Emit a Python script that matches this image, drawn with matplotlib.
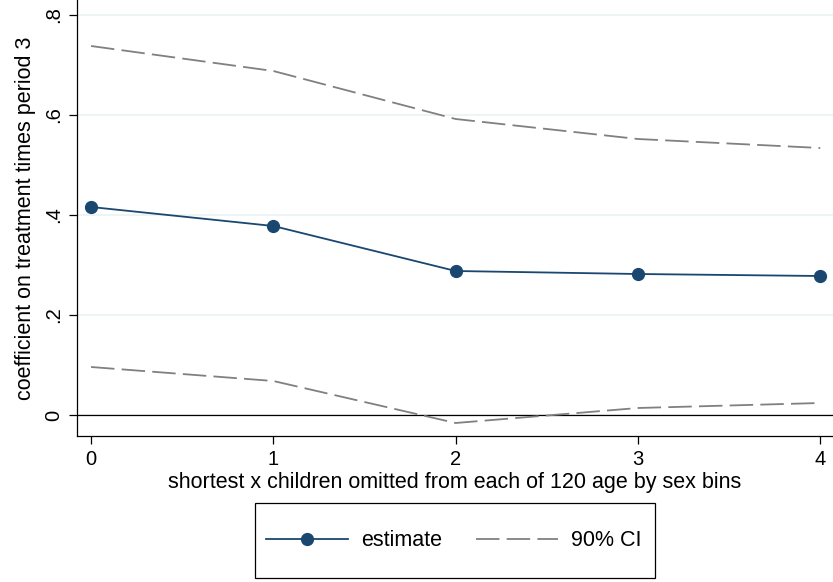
import matplotlib
matplotlib.use('Agg')
import matplotlib.pyplot as plt
from matplotlib.patches import Rectangle

omitted = [0, 1, 2, 3, 4]
estimate = [0.416, 0.378, 0.288, 0.282, 0.278]
ci_upper = [0.738, 0.688, 0.592, 0.552, 0.534]
ci_lower = [0.096, 0.068, -0.016, 0.014, 0.024]
yticks = [0, 0.2, 0.4, 0.6, 0.8]
yticklabels = ['0', '.2', '.4', '.6', '.8']

plt.rcParams['font.family'] = ['Liberation Sans', 'DejaVu Sans']

navy = '#1a476f'
gray = '#808080'
W, H = 833, 582

fig = plt.figure(figsize=(8.33, 5.82), dpi=100)
ax = fig.add_axes([77 / W, 146 / H, 756 / W, 436 / H])

for y in yticks:
    ax.axhline(y, color='#eaf2f3', lw=1.2, zorder=0)
ax.axhline(0, color='black', lw=0.9, zorder=1)

ax.plot(omitted, estimate, color=navy, lw=1.3, marker='o', ms=8.5, label='estimate', zorder=3)
ax.plot(omitted, ci_upper, color=gray, lw=1.3, dashes=(13, 4), label='90% CI', zorder=2)
ax.plot(omitted, ci_lower, color=gray, lw=1.3, dashes=(13, 4), zorder=2)

ax.set_xlim(-0.077, 4.07)
ax.set_ylim(-0.042, 0.83)
ax.set_xticks(omitted)
ax.set_yticks(yticks)
ax.set_yticklabels(yticklabels, rotation=90, va='center')
ax.tick_params(labelsize=14.5, length=6, width=0.9, color='black')
ax.tick_params(axis='y', pad=4)
ax.tick_params(axis='x', pad=4)
for s in ['top', 'right']:
    ax.spines[s].set_visible(False)
for s in ['left', 'bottom']:
    ax.spines[s].set_linewidth(0.9)

ax.set_xlabel('shortest x children omitted from each of 120 age by sex bins', fontsize=15.5, labelpad=2)
ax.set_ylabel('coefficient on treatment times period 3', fontsize=15.5, labelpad=6)

leg = fig.legend(loc='center', bbox_to_anchor=(454 / W, 1 - 541 / H), ncol=2,
                 fontsize=15.5, frameon=False,
                 handlelength=3.8, columnspacing=1.6, handletextpad=0.6)
fig.patches.append(Rectangle((255 / W, 1 - 578 / H), 400 / W, 75 / H,
                             transform=fig.transFigure, fill=False,
                             edgecolor='black', lw=0.9))

fig.savefig('out.png', dpi=100)
